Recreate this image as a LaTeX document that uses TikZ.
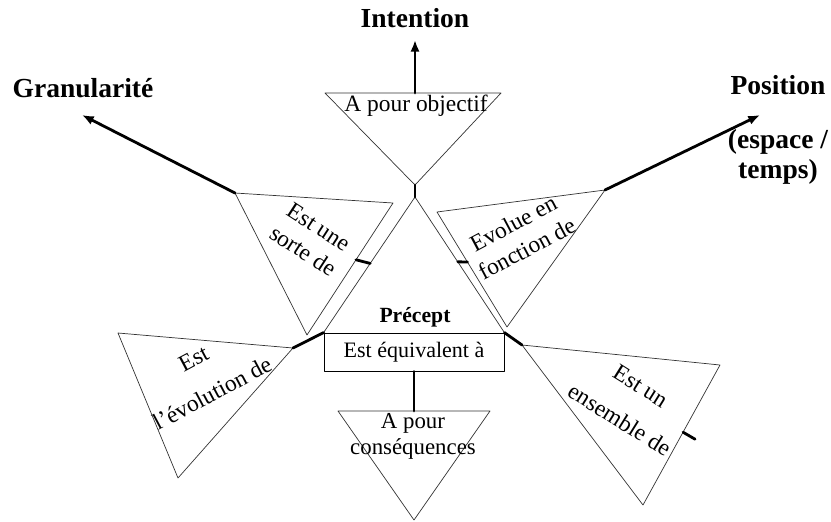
\documentclass[tikz,border=0pt]{standalone}
\usepackage{fontspec}
\setmainfont{Liberation Serif}
\usetikzlibrary{arrows.meta}
\usetikzlibrary{calc}

\tikzset{
  edge/.style={draw=black!80, line width=0.6pt},
  link/.style={line width=2.4pt},
  axe/.style={line width=2.4pt, -{Latex[length=10pt, width=8pt]}},
  rel/.style={font=\fontsize{20}{24.5}\selectfont, align=center, inner sep=0pt},
  dim/.style={font=\fontsize{23.5}{26}\selectfont\bfseries, align=center, inner sep=0pt}
}

\begin{document}
\begin{tikzpicture}[line cap=round,line join=round,x=0.03cm,y=-0.03cm]
\useasboundingbox (0,0) rectangle (831,521);
% centre
\node [draw, line width=0.7pt, minimum width=5.4cm, minimum height=1.14cm, inner sep=0pt, font=\fontsize{18.8}{22}\selectfont] (box) at (414,352) {Est équivalent à};
\node [dim, font=\fontsize{18.5}{22}\selectfont\bfseries] (precept) at (415,317) {Précept};
\coordinate (nexus) at (415,197);
\draw [edge] (nexus) -- (box.north west);
\draw [edge] (nexus) -- (box.north east);
% a pour objectif
\coordinate (obj1) at (325,93);
\coordinate (obj2) at (501,93);
\coordinate (obj3) at (415,185);
\coordinate (objtop) at (415,93);
\coordinate (itip) at (415,40);
\draw [edge] (obj1) -- (obj2) -- (obj3) -- cycle;
\node [rel] (objectif) at (416,106) {A pour objectif};
\draw [link] (obj3) -- (nexus);
\draw [axe] (objtop) -- (itip);
\node [dim] (intention) at (415,18) {Intention};
% est une sorte de
\coordinate (s1) at (235,193);
\coordinate (s2) at (393,203);
\coordinate (s3) at (307,335);
\coordinate (gtip) at (82,115);
\draw [edge] (s1) -- (s2) -- (s3) -- cycle;
\node [rel, rotate=-33] (sorte) at (311,239) {Est une\\sorte de};
\draw [link] ($(s2)!0.43!(s3)$) -- ($(nexus)!0.49!(box.north west)$);
\draw [axe] (s1) -- (gtip);
\node [dim] (granularite) at (83,88) {Granularité};
% evolue en fonction de
\coordinate (e1) at (437,212);
\coordinate (e2) at (605,190);
\coordinate (e3) at (507,327);
\coordinate (ptip) at (760,115);
\draw [edge] (e1) -- (e2) -- (e3) -- cycle;
\node [rel, rotate=28] (fonction) at (520,236) {Evolue en\\fonction de};
\draw [link] ($(e1)!0.435!(e3)$) -- ($(nexus)!0.478!(box.north east)$);
\draw [axe] (e2) -- (ptip);
\node [dim, anchor=north] (position) at (778,75) {Position\\[20pt](espace /\\temps)};
% est l'evolution de
\coordinate (v1) at (118,333);
\coordinate (v2) at (293,348);
\coordinate (v3) at (178,478);
\draw [edge] (v1) -- (v2) -- (v3) -- cycle;
\node [rel, rotate=28] (evolution) at (203,376) {Est\\[9.5pt]l’évolution de};
\draw [link] (v2) -- (box.north west);
% est un ensemble de
\coordinate (n1) at (522,345);
\coordinate (n2) at (720,365);
\coordinate (n3) at (643,505);
\draw [edge] (n1) -- (n2) -- (n3) -- cycle;
\node [rel, rotate=-32] (ensemble) at (630,403) {Est un\\[9.5pt]ensemble de};
\draw [link] (box.north east) -- (n1);
\draw [link] ($(n2)!0.48!(n3)$) -- ++(12,7);
% a pour consequences
\coordinate (c1) at (338,411);
\coordinate (c2) at (490,411);
\coordinate (c3) at (414,520);
\coordinate (ctop) at (414,411);
\draw [edge] (c1) -- (c2) -- (c3) -- cycle;
\node [rel, font=\fontsize{19.5}{22}\selectfont] (consequences) at (413,436) {A pour\\conséquences};
\draw [link] (box.south) -- (ctop);
\end{tikzpicture}
\end{document}
